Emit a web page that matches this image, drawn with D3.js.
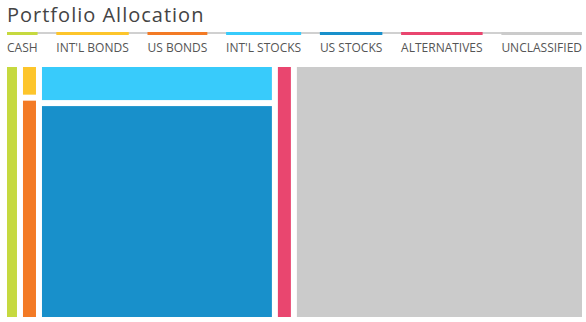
<!DOCTYPE html>
<html>
<head>
<meta charset="utf-8">
<script src="https://cdnjs.cloudflare.com/ajax/libs/d3/7.8.5/d3.min.js"></script>
<style>
  html, body { margin: 0; padding: 0; background: #fff; }
  svg { display: block; }
</style>
</head>
<body>
<svg id="chart" width="586" height="322"></svg>
<script>
// ---- Data (percent of portfolio) ----
const groups = ["Cash", "Bonds", "Bonds", "Stocks", "Stocks", "Alternatives", "Unclassified"];
const categories = ["CASH", "INT'L BONDS", "US BONDS", "INT'L STOCKS", "US STOCKS", "ALTERNATIVES", "UNCLASSIFIED"];
const values = [2.75, 0.43, 2.84, 6.2, 34.4, 3.27, 50.1];
const colors = ["#c6d93f", "#fdc52b", "#f37a25", "#38cbfb", "#1890cb", "#e9466f", "#cbcbcb"];
const title = "Portfolio Allocation";

const svg = d3.select("#chart");
const left = 7, right = 582;

// Title
svg.append("text")
  .attr("x", left).attr("y", 22)
  .attr("font-family", "'Open Sans', sans-serif")
  .attr("font-size", 20)
  .attr("letter-spacing", 1)
  .attr("fill", "#444")
  .text(title);

// Legend (space-between layout)
svg.append("rect").attr("x", left).attr("y", 32).attr("width", right - left).attr("height", 2).attr("fill", "#d0d0d0");
const legend = svg.append("g");
const items = categories.map((c, i) => {
  const t = legend.append("text")
    .attr("y", 52)
    .attr("font-family", "'Open Sans', sans-serif")
    .attr("font-size", 12)
    .attr("fill", "#555")
    .text(c);
  return { t, w: t.node().getComputedTextLength(), color: colors[i] };
});
const totalW = d3.sum(items, d => d.w);
const gap = (right - left - totalW) / (items.length - 1);
let lx = left;
items.forEach(it => {
  it.t.attr("x", lx);
  legend.append("rect").attr("x", lx).attr("y", 32).attr("width", it.w).attr("height", 3).attr("fill", it.color);
  lx += it.w + gap;
});

// Treemap hierarchy
const groupNames = Array.from(new Set(groups));
const rootData = {
  name: "root",
  children: groupNames.map(g => ({
    name: g,
    children: categories.map((c, i) => ({ name: c, value: values[i], color: colors[i], group: groups[i] }))
      .filter(d => d.group === g)
  }))
};
const root = d3.hierarchy(rootData).sum(d => d.value || 0);
d3.treemap()
  .tile(d3.treemapSliceDice)
  .size([right - left, 317 - 67])
  .paddingInner(6)(root);

svg.append("g").attr("transform", `translate(${left},67)`)
  .selectAll("rect")
  .data(root.leaves())
  .join("rect")
  .attr("x", d => d.x0).attr("y", d => d.y0)
  .attr("width", d => d.x1 - d.x0).attr("height", d => d.y1 - d.y0)
  .attr("fill", d => d.data.color);
</script>
</body>
</html>
